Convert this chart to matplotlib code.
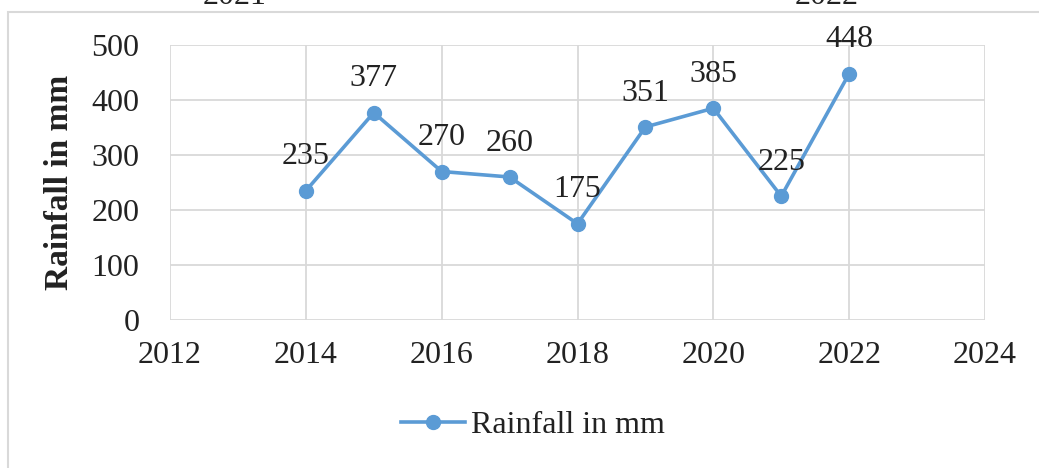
import matplotlib
matplotlib.use("Agg")
import matplotlib.pyplot as plt
from matplotlib.patches import Rectangle

years = [2014, 2015, 2016, 2017, 2018, 2019, 2020, 2021, 2022]
rainfall = [235, 377, 270, 260, 175, 351, 385, 225, 448]
x_ticks = [2012, 2014, 2016, 2018, 2020, 2022, 2024]
y_ticks = [0, 100, 200, 300, 400, 500]
series_name = "Rainfall in mm"
top_fragments = ["2021", "2022"]

plt.rcParams['font.family'] = ['Liberation Serif', 'DejaVu Serif']
W, H = 1039, 468
fig = plt.figure(figsize=(W / 100, H / 100), dpi=100)

# outer chart frame
fig.patches.append(Rectangle((8 / W, -0.1), 1.2, 1 - 12 / H + 0.1, transform=fig.transFigure,
                             fill=False, edgecolor='#d9d9d9', linewidth=1.5))

# cut-off text fragments at top (as in the reference)
for txt, xp in zip(top_fragments, [235, 827]):
    fig.text(xp / W, 1 - 4 / H, txt, ha='center', va='baseline', fontsize=23, color='#222222')

ax = fig.add_axes([170 / W, 1 - 320 / H, (985 - 170) / W, (320 - 45) / H])
color = '#5b9bd5'
ax.plot(years, rainfall, color=color, linewidth=2.6, marker='o', markersize=10,
        label=series_name, zorder=3)
for xv, yv in zip(years, rainfall):
    ax.annotate(str(yv), (xv, yv), xytext=(0, 14), textcoords='offset points',
                ha='center', va='bottom', fontsize=23, color='#222222')

ax.set_xlim(2012, 2024)
ax.set_ylim(0, 500)
ax.set_xticks(x_ticks)
ax.set_yticks(y_ticks)
ax.grid(True, color='#d9d9d9', linewidth=1.3)
ax.set_axisbelow(True)
for s in ax.spines.values():
    s.set_visible(False)
ax.tick_params(axis='both', length=0, labelsize=23, colors='#222222')
ax.tick_params(axis='y', pad=22)
ax.tick_params(axis='x', pad=15)
ax.set_ylabel(series_name, fontsize=24, fontweight='bold', color='#222222', labelpad=12)

fig.legend(loc='center', bbox_to_anchor=(533 / W, 1 - 425 / H), frameon=False,
           fontsize=23, handlelength=2.0, handletextpad=0.2, labelcolor='#222222')

fig.savefig("out.png", dpi=100)
